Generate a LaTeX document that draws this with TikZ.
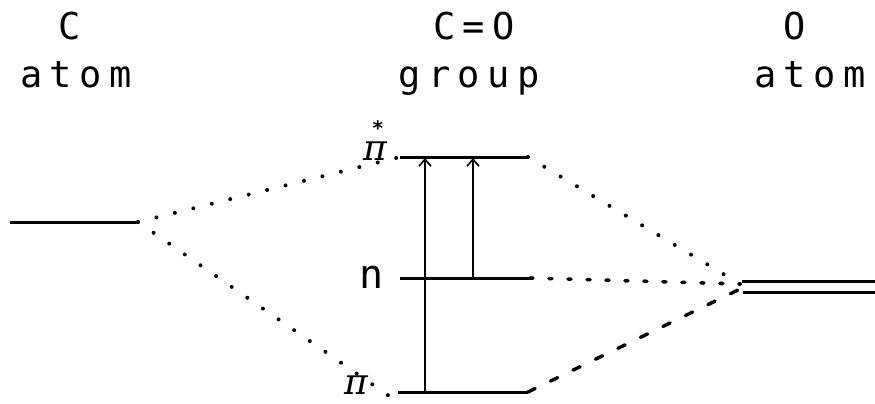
\documentclass[tikz,border=0pt]{standalone}
\usepackage{fontspec}
\usetikzlibrary{arrows.meta}
\newfontfamily\labfont[LetterSpace=20]{DejaVu Sans Mono}
\newfontfamily\nfont{DejaVu Sans Mono}
\newfontfamily\pifont{DejaVu Serif}
\begin{document}
\begin{tikzpicture}[x=1pt,y=-1pt,
  level/.style={line width=3pt},
  trans/.style={line width=1.6pt,-{Straight Barb[length=7pt,width=12pt,line width=1.6pt]}},
  dotline/.style={line width=4pt,line cap=round,dash pattern=on 0pt off 19pt},
  shortdash/.style={line width=3.6pt,line cap=round,dash pattern=on 3pt off 16pt},
  longdash/.style={line width=3.4pt,line cap=round,dash pattern=on 8pt off 17pt},
  title/.style={font=\labfont\fontsize{37}{40}\selectfont,anchor=base,inner sep=0pt},
  orb/.style={font=\pifont\itshape\fontsize{36}{38}\selectfont,inner sep=0pt}]
\useasboundingbox (0,0) rectangle (875,404);
% titles
\node[title] (tC) at (70,40) {C};
\node[title] (tCa) at (76,88) {atom};
\node[title] (tG) at (474,40) {C=O};
\node[title] (tGa) at (469,88) {group};
\node[title] (tO) at (795,40) {O};
\node[title] (tOa) at (810,88) {atom};
% level coordinates
\coordinate (Cl) at (10,222);
\coordinate (Cr) at (138,222);
\coordinate (psl) at (400,157);
\coordinate (psr) at (528,157);
\coordinate (nl) at (400,278);
\coordinate (nr) at (530,278);
\coordinate (pbl) at (398,392);
\coordinate (pbr) at (528,392);
\coordinate (Ol) at (742,281);
\coordinate (Or) at (875,281);
\coordinate (Ol2) at (743,292);
\coordinate (Or2) at (875,292);
\coordinate (Oj) at (740,284);
\coordinate (Oj2) at (738,290);
\coordinate (pbend) at (392,398);
% levels
\draw[level] (Cl) -- (Cr);
\draw[level] (psl) -- (psr);
\draw[level] (nl) -- (nr);
\draw[level] (pbl) -- (pbr);
\draw[level] (Ol) -- (Or);
\draw[level] (Ol2) -- (Or2);
% labels
\node[orb,anchor=base] (lps) at (375,160)
  {π\llap{\raisebox{25pt}[0pt][0pt]{\nfont\bfseries\fontsize{20}{20}\selectfont *\hspace*{3pt}}}};
\node[font=\nfont\fontsize{40}{40}\selectfont,inner sep=0pt,anchor=base] (ln) at (372,288) {n};
\node[orb,anchor=base] (lpb) at (356,394) {π};
% correlation lines
\draw[dotline] (Cr) -- (psl);
\draw[dotline] (Cr) -- (pbend);
\draw[dotline] (psr) -- (Oj);
\draw[shortdash] (nr) -- (Oj);
\draw[longdash] (pbr) -- (Oj2);
% transitions
\coordinate (a1b) at (425,392);
\coordinate (a1t) at (425,158);
\coordinate (a2b) at (473,278);
\coordinate (a2t) at (473,158);
\draw[trans] (a1b) -- (a1t);
\draw[trans] (a2b) -- (a2t);
\end{tikzpicture}
\end{document}
